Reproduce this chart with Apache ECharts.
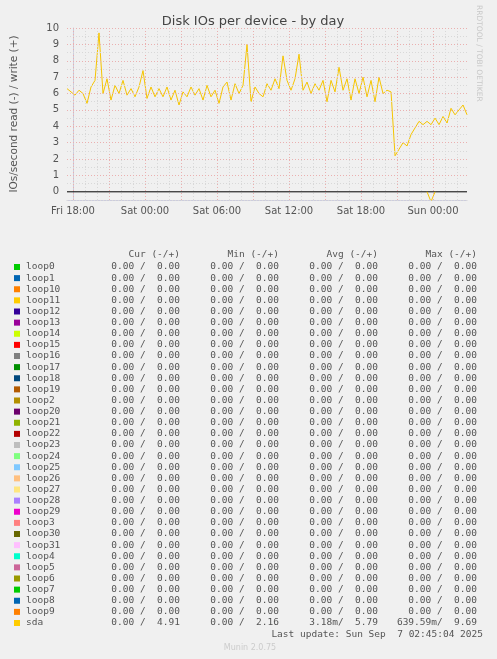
<!DOCTYPE html>
<html><head><meta charset="utf-8">
<script src="https://cdn.jsdelivr.net/npm/echarts@6/dist/echarts.min.js"></script>
<style>html,body{margin:0;background:#f0f0f0}#main{width:497px;height:659px}</style>
</head><body><div id="main"></div>
<script>
// hours since Fri 18:00, one sample every 20 min from Fri 17:30
var startHour = -0.5;
var sdaWrite = [6.3,6.1,5.9,6.2,6.0,5.4,6.4,6.8,9.7,6.0,6.9,5.6,6.5,6.0,6.8,5.9,6.3,5.8,6.4,7.4,
  5.7,6.4,5.8,6.3,5.8,6.4,5.6,6.2,5.3,6.1,5.8,6.4,5.9,6.3,5.6,6.5,5.8,6.2,5.4,6.4,
  6.7,5.6,6.6,6.0,6.5,9.0,5.5,6.4,6.0,5.8,6.6,6.2,6.9,6.3,8.3,6.8,6.2,6.9,8.4,6.2,
  6.7,6.0,6.6,6.2,6.8,5.5,6.8,6.1,7.6,6.2,6.9,5.6,6.9,6.0,7.0,5.8,6.8,5.5,7.0,6.0,
  6.2,6.1,2.2,2.6,3.0,2.8,3.5,3.9,4.3,4.1,4.3,4.1,4.5,4.1,4.6,4.2,5.1,4.7,5.0,5.3,4.7];
var sdaReadX = [29.5, 29.83, 30.17];
var sdaReadY = [0, -0.6, 0];
var tickLabels = {0:'Fri 18:00',6:'Sat 00:00',12:'Sat 06:00',18:'Sat 12:00',24:'Sat 18:00',30:'Sun 00:00'};

var devices = ['loop0','loop1','loop10','loop11','loop12','loop13','loop14','loop15','loop16','loop17',
  'loop18','loop19','loop2','loop20','loop21','loop22','loop23','loop24','loop25','loop26','loop27',
  'loop28','loop29','loop3','loop30','loop31','loop4','loop5','loop6','loop7','loop8','loop9','sda'];
var colors = ['#00cc00','#0066b3','#ff8000','#ffcc00','#330099','#990099','#ccff00','#ff0000','#808080','#008f00',
  '#00487d','#b35a00','#b38f00','#6b006b','#8fb300','#b30000','#bebebe','#80ff80','#80c9ff','#ffc080','#ffe680',
  '#aa80ff','#ee00cc','#ff8080','#666600','#ffbfff','#00ffcc','#cc6699','#999900','#00cc00','#0066b3','#ff8000','#ffcc00'];
// [read, write] per column for sda; loops are all zero
var loopStat = ['0.00 ', '0.00'];
var sdaCur = ['0.00 ', '4.91'];
var sdaMin = ['0.00 ', '2.16'];
var sdaAvg = ['3.18m', '5.79'];
var sdaMax = ['639.59m', '9.69'];

var myChart = echarts.init(document.getElementById('main'));
var mono = 'DejaVu Sans Mono';
var sans = 'DejaVu Sans';

var vLines = [], hLines = [];
for (var h = 0; h <= 32; h++) vLines.push({xAxis: h, lineStyle: {color: h % 3 === 0 ? '#eab0b0' : '#d8d8d8'}});
for (var v = -0.5; v <= 10; v += 0.5) if (v !== 0) hLines.push({yAxis: v, lineStyle: {color: v % 1 === 0 ? '#eab0b0' : '#d8d8d8'}});

var writeData = sdaWrite.map(function (y, i) { return [startHour + i / 3, y]; });
var readData = sdaReadX.map(function (x, i) { return [x, sdaReadY[i]]; });

function cell(s) { return s[0] + '/' + ('      ' + s[1]).slice(-6); }
var g = [];
var cols = [180, 279, 378, 477];
var rowGap = 11.125;
['Cur (-/+)', 'Min (-/+)', 'Avg (-/+)', 'Max (-/+)'].forEach(function (t, k) {
  g.push({type: 'text', x: cols[k], y: 250, style: {text: t, font: '9.5px ' + mono, fill: '#555', align: 'right'}});
});
devices.forEach(function (d, i) {
  var y = 262 + i * rowGap;
  var sda = d === 'sda';
  g.push({type: 'rect', shape: {x: 14, y: y + 2, width: 6, height: 6}, style: {fill: colors[i]}});
  g.push({type: 'text', x: 26, y: y, style: {text: d, font: '9.5px ' + mono, fill: '#555'}});
  [sda ? sdaCur : loopStat, sda ? sdaMin : loopStat, sda ? sdaAvg : loopStat, sda ? sdaMax : loopStat].forEach(function (s, k) {
    g.push({type: 'text', x: cols[k], y: y, style: {text: cell(s), font: '9.5px ' + mono, fill: '#555', align: 'right'}});
  });
});
g.push({type: 'text', x: 483, y: 630, style: {text: 'Last update: Sun Sep  7 02:45:04 2025', font: '9.5px ' + mono, fill: '#555', align: 'right'}});
g.push({type: 'text', x: 250, y: 644, style: {text: 'Munin 2.0.75', font: '8px ' + sans, fill: '#ccc', align: 'center'}});
g.push({type: 'text', x: 483, y: 5, rotation: -Math.PI / 2, style: {text: 'RRDTOOL / TOBI OETIKER', font: '7.5px ' + sans, fill: '#c8c8c8'}});

myChart.setOption({
  backgroundColor: '#f0f0f0',
  animation: false,
  title: {text: 'Disk IOs per device - by day', left: 248, top: 10, textAlign: 'center',
    textStyle: {color: '#444', fontSize: 13, fontWeight: 'normal', fontFamily: sans}},
  grid: {left: 67, right: 30, top: 28, bottom: 459, containLabel: false},
  xAxis: {type: 'value', min: -0.5, max: 32.83, interval: 0.5,
    axisLine: {show: true, onZero: false, lineStyle: {color: '#ccd'}},
    axisTick: {show: false}, splitLine: {show: false},
    axisLabel: {color: '#555', fontSize: 10, fontFamily: sans, margin: 6, showMinLabel: false, showMaxLabel: false,
      formatter: function (v) { return tickLabels[v] || ''; }}},
  yAxis: {type: 'value', min: -0.5, max: 10, interval: 0.5,
    name: 'IOs/second read (-) / write (+)', nameLocation: 'middle', nameGap: 47,
    nameTextStyle: {color: '#555', fontSize: 10.5, fontFamily: sans},
    axisLine: {show: true, lineStyle: {color: '#ccd'}}, axisTick: {show: false}, splitLine: {show: false},
    axisLabel: {color: '#555', fontSize: 10, fontFamily: sans, margin: 8,
      formatter: function (v) { return v % 1 === 0 ? String(v) : ''; }}},
  series: [
    {type: 'line', data: [], silent: true,
      markLine: {silent: true, symbol: 'none', label: {show: false}, animation: false,
        lineStyle: {type: [1, 2], width: 1}, data: vLines.concat(hLines)}},
    {type: 'line', data: [[-0.5, 0], [32.83, 0]], symbol: 'none', silent: true, lineStyle: {color: '#000', width: 1}},
    {type: 'line', name: 'sda write', data: writeData, symbol: 'none', lineStyle: {color: '#f5c400', width: 1}},
    {type: 'line', name: 'sda read', data: readData, symbol: 'none', lineStyle: {color: '#f5c400', width: 1}}
  ],
  graphic: g
});
</script></body></html>
